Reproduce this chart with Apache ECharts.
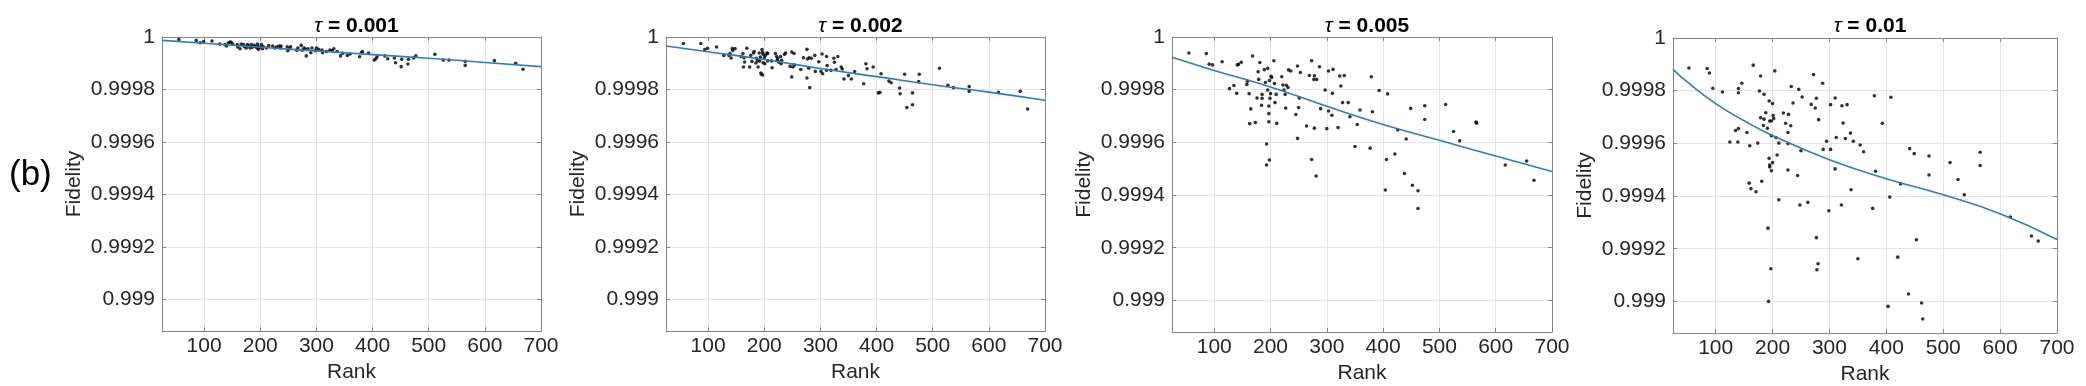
<!DOCTYPE html>
<html>
<head>
<meta charset="utf-8">
<script src="https://cdn.jsdelivr.net/npm/echarts@6.0.0/dist/echarts.min.js"></script>
<style>
  html, body { margin: 0; padding: 0; background: #fff; }
  #main { width: 2086px; height: 386px; }
</style>
</head>
<body>
<div id="main"></div>
<script>
// panel titles
var taus = ['0.001', '0.002', '0.005', '0.01'];

// scatter points [rank, fidelity], tau = 0.001
var pts001 = [
  [55,0.999990],[86,0.999987],[93,0.999978],[99,0.999983],[114,0.999985],[128,0.999973],[137,0.999971],
  [140,0.999966],[143,0.999977],[146,0.999981],[148,0.999980],[151,0.999973],[159,0.999971],[160,0.999962],
  [164,0.999955],[166,0.999973],[170,0.999971],[172,0.999963],[175,0.999958],[177,0.999971],[179,0.999967],
  [182,0.999958],[184,0.999971],[186,0.999961],[189,0.999968],[191,0.999964],[194,0.999958],[195,0.999973],
  [196,0.999963],[197,0.999953],[199,0.999961],[202,0.999971],[204,0.999955],[205,0.999964],[211,0.999958],
  [215,0.999967],[222,0.999966],[226,0.999958],[229,0.999962],[233,0.999966],[236,0.999958],[237,0.999966],
  [248,0.999963],[249,0.999948],[252,0.999955],[254,0.999963],[265,0.999950],[267,0.999958],[273,0.999968],
  [275,0.999950],[278,0.999958],[280,0.999954],[282,0.999928],[285,0.999955],[290,0.999940],[292,0.999958],
  [298,0.999948],[300,0.999958],[304,0.999953],[310,0.999950],[311,0.999940],[318,0.999945],[324,0.999950],
  [328,0.999948],[331,0.999955],[337,0.999945],[343,0.999928],[347,0.999938],[355,0.999930],[360,0.999935],
  [377,0.999925],[380,0.999940],[382,0.999945],[393,0.999939],[403,0.999912],[406,0.999917],[408,0.999925],
  [422,0.999928],[427,0.999917],[439,0.999920],[441,0.999902],[451,0.999887],[452,0.999915],[463,0.999897],
  [464,0.999915],[473,0.999920],[477,0.999928],[511,0.999934],[526,0.999912],[536,0.999912],[565,0.999907],
  [565,0.999892],[617,0.999910],[655,0.999900],[668,0.999877]
];

// tau = 0.002
var pts002 = [
  [56,0.999975],[87,0.999975],[94,0.999952],[99,0.999957],[115,0.999962],[128,0.999930],[137,0.999930],
  [139,0.999937],[141,0.999920],[144,0.999949],[143,0.999956],[148,0.999956],[162,0.999937],[159,0.999926],
  [164,0.999921],[165,0.999905],[163,0.999886],[169,0.999957],[174,0.999886],[176,0.999930],[178,0.999907],
  [181,0.999939],[182,0.999945],[185,0.999901],[186,0.999919],[188,0.999909],[189,0.999886],[191,0.999939],
  [192,0.999909],[193,0.999924],[194,0.999863],[195,0.999858],[197,0.999855],[196,0.999952],[197,0.999942],
  [198,0.999934],[198,0.999902],[200,0.999921],[201,0.999898],[202,0.999930],[205,0.999939],[206,0.999909],
  [206,0.999937],[213,0.999909],[214,0.999883],[220,0.999937],[222,0.999926],[223,0.999911],[224,0.999918],
  [226,0.999904],[229,0.999926],[230,0.999898],[231,0.999911],[236,0.999934],[238,0.999939],[246,0.999888],
  [249,0.999943],[249,0.999848],[251,0.999886],[253,0.999937],[254,0.999893],[265,0.999876],[270,0.999921],
  [276,0.999953],[276,0.999844],[277,0.999916],[279,0.999881],[280,0.999921],[281,0.999807],[284,0.999919],
  [290,0.999930],[291,0.999869],[297,0.999906],[301,0.999869],[303,0.999935],[304,0.999860],[311,0.999873],
  [311,0.999926],[312,0.999891],[319,0.999873],[324,0.999919],[325,0.999904],[328,0.999876],[331,0.999926],
  [337,0.999886],[339,0.999878],[342,0.999840],[350,0.999853],[355,0.999840],[361,0.999868],[377,0.999822],
  [381,0.999898],[383,0.999879],[394,0.999886],[403,0.999787],[406,0.999789],[408,0.999860],[422,0.999832],
  [426,0.999826],[441,0.999806],[442,0.999784],[450,0.999858],[454,0.999731],[464,0.999742],[464,0.999787],
  [476,0.999858],[475,0.999830],[512,0.999881],[527,0.999816],[537,0.999807],[565,0.999811],[565,0.999793],
  [617,0.999789],[656,0.999793],[669,0.999726]
];

// tau = 0.005
var pts005 = [
  [55,0.999939],[86,0.999937],[91,0.999897],[97,0.999894],[114,0.999906],[127,0.999804],[140,0.999786],
  [135,0.999816],[141,0.999894],[143,0.999896],[148,0.999904],[158,0.999820],[159,0.999832],[162,0.999785],
  [163,0.999671],[165,0.999727],[168,0.999928],[173,0.999675],[176,0.999768],[178,0.999868],[179,0.999839],
  [181,0.999903],[184,0.999741],[185,0.999767],[185,0.999782],[189,0.999876],[191,0.999827],[193,0.999594],
  [193,0.999514],[195,0.999881],[195,0.999799],[197,0.999738],[197,0.999709],[197,0.999678],[198,0.999533],
  [198,0.999835],[199,0.999767],[200,0.999785],[201,0.999851],[202,0.999846],[206,0.999910],[207,0.999823],
  [208,0.999751],[210,0.999782],[211,0.999672],[220,0.999849],[222,0.999818],[224,0.999799],[226,0.999782],
  [227,0.999730],[228,0.999817],[231,0.999808],[232,0.999875],[236,0.999871],[245,0.999706],[248,0.999890],
  [248,0.999615],[250,0.999732],[251,0.999768],[253,0.999865],[264,0.999662],[269,0.999854],[273,0.999535],
  [273,0.999910],[277,0.999839],[278,0.999853],[278,0.999654],[281,0.999472],[282,0.999839],[287,0.999887],
  [289,0.999728],[297,0.999799],[300,0.999652],[303,0.999871],[303,0.999719],[309,0.999703],[311,0.999877],
  [310,0.999786],[320,0.999656],[323,0.999852],[325,0.999814],[328,0.999751],[331,0.999854],[338,0.999751],
  [341,0.999697],[350,0.999584],[354,0.999668],[359,0.999723],[377,0.999578],[379,0.999849],[381,0.999716],
  [393,0.999797],[404,0.999419],[406,0.999535],[408,0.999784],[421,0.999556],[426,0.999647],[438,0.999482],
  [441,0.999613],[449,0.999729],[452,0.999437],[462,0.999416],[462,0.999349],[474,0.999687],[474,0.999739],
  [511,0.999744],[525,0.999641],[536,0.999606],[565,0.999677],[566,0.999673],[617,0.999514],[655,0.999529],
  [668,0.999456]
];

// tau = 0.01
var pts01 = [
  [53,0.999886],[85,0.999884],[89,0.999867],[95,0.999809],[112,0.999795],[125,0.999605],[139,0.999605],
  [140,0.999808],[140,0.999792],[135,0.999649],[140,0.999656],[146,0.999828],[155,0.999641],[160,0.999591],
  [159,0.999449],[162,0.999428],[166,0.999897],[171,0.999416],[174,0.999601],[179,0.999856],[177,0.999799],
  [181,0.999456],[179,0.999697],[185,0.999692],[184,0.999668],[185,0.999786],[188,0.999716],[191,0.999657],
  [192,0.999278],[194,0.999761],[193,0.999000],[194,0.999543],[195,0.999518],[195,0.999510],[197,0.999124],
  [195,0.999685],[198,0.999496],[198,0.999685],[198,0.999629],[200,0.999527],[200,0.999751],[201,0.999706],
  [202,0.999694],[204,0.999875],[206,0.999622],[208,0.999556],[211,0.999386],[211,0.999601],[219,0.999715],
  [223,0.999676],[227,0.999599],[227,0.999499],[228,0.999710],[227,0.999641],[232,0.999667],[233,0.999816],
  [236,0.999753],[244,0.999478],[246,0.999805],[248,0.999366],[250,0.999572],[252,0.999776],[262,0.999376],
  [268,0.999748],[272,0.999861],[275,0.999734],[277,0.999771],[277,0.999242],[278,0.999120],[280,0.999143],
  [281,0.999690],[288,0.999828],[289,0.999577],[295,0.999608],[299,0.999344],[302,0.999747],[302,0.999577],
  [310,0.999772],[310,0.999503],[312,0.999622],[321,0.999366],[322,0.999743],[324,0.999677],[328,0.999618],
  [331,0.999747],[337,0.999639],[338,0.999424],[342,0.999608],[350,0.999162],[354,0.999594],[360,0.999568],
  [376,0.999353],[379,0.999781],[381,0.999494],[393,0.999676],[403,0.998981],[406,0.999396],[408,0.999775],
  [425,0.999446],[420,0.999168],[439,0.999028],[441,0.999580],[449,0.999561],[453,0.999234],[462,0.998994],
  [464,0.998933],[475,0.999552],[475,0.999480],[512,0.999527],[526,0.999463],[537,0.999405],[565,0.999566],
  [565,0.999516],[618,0.999320],[655,0.999248],[667,0.999229]
];

// fitted curves [rank, fidelity]
var fit001 = [[25,0.999987],[100,0.999976],[200,0.999961],[300,0.999947],[400,0.999933],[500,0.999919],[600,0.999903],[700,0.999887]];
var fit002 = [[25,0.999966],[100,0.999944],[200,0.999914],[300,0.999880],[400,0.999849],[500,0.999818],[600,0.999790],[700,0.999759]];
var fit005 = [[25,0.999923],[100,0.999873],[200,0.999810],[300,0.999737],[400,0.999668],[500,0.999608],[600,0.999548],[700,0.999489]];
var fit01 = [[25,0.999881],[50,0.999833],[100,0.999751],[150,0.999686],[200,0.999630],[300,0.999538],[400,0.999466],[500,0.999405],[600,0.999333],[700,0.999235]];

var scatterSets = [pts001, pts002, pts005, pts01];
var fitSets = [fit001, fit002, fit005, fit01];

var font = 'Liberation Sans, Arial, Helvetica, sans-serif';
var boxColor = '#858585';
var gridColor = '#e4e4e4';
var textColor = '#262626';

var panels = [
  { left: 162, top: 37, width: 379, height: 294 },
  { left: 666, top: 37, width: 379, height: 294 },
  { left: 1172, top: 37, width: 380, height: 295 },
  { left: 1673, top: 38, width: 384, height: 295 }
];

var chartDom = document.getElementById('main');
var myChart = echarts.init(chartDom);

var grids = [], xAxes = [], yAxes = [], titles = [], series = [];

panels.forEach(function (p, i) {
  grids.push({ left: p.left, top: p.top, width: p.width, height: p.height, containLabel: false, outerBoundsMode: 'none' });
  titles.push({
    text: '{i|τ} = ' + taus[i],
    left: p.left + p.width / 2,
    top: 11,
    textAlign: 'center',
    textStyle: {
      fontFamily: font, fontSize: 21, fontWeight: 'bold', color: '#000',
      rich: { i: { fontFamily: font, fontSize: 21, fontStyle: 'italic', fontWeight: 'normal', color: '#000' } }
    }
  });
});

// bottom / left axes with labels
panels.forEach(function (p, i) {
  xAxes.push({
    type: 'value', gridIndex: i, min: 25, max: 700, splitNumber: 5,
    name: 'Rank', nameLocation: 'middle', nameGap: 24,
    nameTextStyle: { fontFamily: font, fontSize: 21, color: textColor },
    axisLine: { lineStyle: { color: boxColor, width: 1 } },
    axisTick: { inside: true, length: 4, lineStyle: { color: boxColor } },
    axisLabel: { showMinLabel: false, margin: 5, fontFamily: font, fontSize: 21, color: textColor },
    splitLine: { show: true, lineStyle: { color: gridColor, width: 1 } }
  });
  yAxes.push({
    type: 'value', gridIndex: i, min: 0.99888, max: 1, splitNumber: 5,
    name: 'Fidelity', nameLocation: 'middle', nameGap: 77,
    nameTextStyle: { fontFamily: font, fontSize: 21, color: textColor },
    axisLine: { show: true, lineStyle: { color: boxColor, width: 1 } },
    axisTick: { show: true, inside: true, length: 4, lineStyle: { color: boxColor } },
    axisLabel: { showMinLabel: false, margin: 7, fontFamily: font, fontSize: 21, color: textColor },
    splitLine: { show: true, lineStyle: { color: gridColor, width: 1 } }
  });
});

// mirror axes on top / right to close the box
panels.forEach(function (p, i) {
  xAxes.push({
    type: 'value', gridIndex: i, position: 'top', min: 25, max: 700, splitNumber: 5,
    axisLine: { lineStyle: { color: boxColor, width: 1 } },
    axisTick: { inside: true, length: 4, lineStyle: { color: boxColor } },
    axisLabel: { show: false }, splitLine: { show: false }
  });
  yAxes.push({
    type: 'value', gridIndex: i, position: 'right', min: 0.99888, max: 1, splitNumber: 5,
    axisLine: { show: true, lineStyle: { color: boxColor, width: 1 } },
    axisTick: { show: true, inside: true, length: 4, lineStyle: { color: boxColor } },
    axisLabel: { show: false }, splitLine: { show: false }
  });
});

scatterSets.forEach(function (d, i) {
  series.push({
    type: 'scatter', xAxisIndex: i, yAxisIndex: i, data: d,
    symbol: 'circle', symbolSize: 3.6,
    itemStyle: { color: '#000' }, silent: true, z: 2
  });
});

fitSets.forEach(function (d, i) {
  series.push({
    type: 'line', xAxisIndex: i, yAxisIndex: i, data: d,
    smooth: true, showSymbol: false,
    lineStyle: { color: '#2a7dc8', width: 1.6 }, silent: true, z: 3
  });
});

var option = {
  animation: false,
  backgroundColor: '#fff',
  title: titles,
  grid: grids,
  xAxis: xAxes,
  yAxis: yAxes,
  series: series,
  graphic: [{
    type: 'text', left: 9, top: 158,
    style: { text: '(b)', fontFamily: font, fontSize: 35, fill: '#000' }
  }]
};

option && myChart.setOption(option);
</script>
</body>
</html>
